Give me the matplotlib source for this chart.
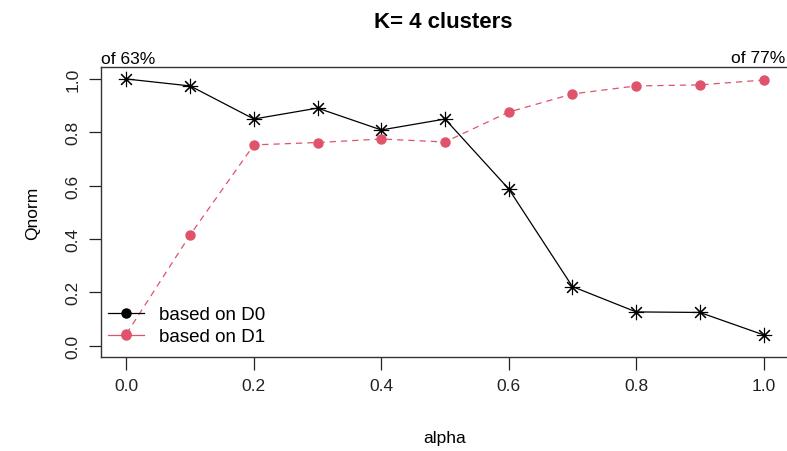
import matplotlib
matplotlib.use("Agg")
import matplotlib.pyplot as plt
from matplotlib.lines import Line2D

plt.rcParams["font.family"] = ["Liberation Sans", "DejaVu Sans"]

# data
alpha = [0.0, 0.1, 0.2, 0.3, 0.4, 0.5, 0.6, 0.7, 0.8, 0.9, 1.0]
q_d0 = [1.0, 0.974, 0.850, 0.891, 0.809, 0.850, 0.588, 0.222, 0.127, 0.125, 0.041]
q_d1 = [0.045, 0.416, 0.753, 0.762, 0.775, 0.764, 0.876, 0.944, 0.974, 0.978, 0.996]
x_ticks = [0.0, 0.2, 0.4, 0.6, 0.8, 1.0]
y_ticks = [0.0, 0.2, 0.4, 0.6, 0.8, 1.0]
red = "#DF536B"

W, H = 787, 452
fig = plt.figure(figsize=(W / 100, H / 100), dpi=100)
ax = fig.add_axes([101 / W, 1 - 358 / H, (789 - 101) / W, (358 - 68) / H])

ax.plot(alpha, q_d0, color="black", lw=0.9, ls="-", marker=(8, 2, 0),
        ms=11, mew=0.8, mec="black")
ax.plot(alpha, q_d1, color=red, lw=0.9, ls=(0, (5, 4)),
        marker="o", ms=6.5, mfc=red, mec=red)

ax.set_xlim(-0.04, 1.04)
ax.set_ylim(-0.042, 1.045)
ax.set_xticks(x_ticks)
ax.set_xticklabels([f"{v:.1f}" for v in x_ticks])
ax.set_yticks(y_ticks)
ax.set_yticklabels([f"{v:.1f}" for v in y_ticks], rotation=90, va="center")
ax.tick_params(direction="out", length=9, width=0.9, labelsize=12.5,
               colors="#222222", pad=6)
for s in ax.spines.values():
    s.set_linewidth(1.0)
    s.set_color("#333333")

ax.set_xlabel("alpha", fontsize=12.5, labelpad=27)
ax.set_ylabel("Qnorm", fontsize=12.5, labelpad=18)
fig.text(443 / W, 1 - 22 / H, "K= 4 clusters", ha="center", va="center",
         fontsize=16, fontweight="bold")
ax.text(0, 1.005, "of 63%", transform=ax.transAxes, ha="left", va="bottom",
        fontsize=12.5)
fig.text(785 / W, 1 - 66 / H, "of 77%", ha="right", va="bottom",
         fontsize=12.5)

handles = [
    Line2D([], [], color="black", lw=0.9, marker="o", ms=6.5),
    Line2D([], [], color=red, lw=0.9, marker="o", ms=6.5),
]
ax.legend(handles, ["based on D0", "based on D1"], loc="lower left",
          frameon=False, fontsize=13.5, handlelength=1.9, handletextpad=0.8,
          labelspacing=0.25, numpoints=1, borderaxespad=0.0,
          bbox_to_anchor=(0.0, 0.015))

fig.savefig("out.png", dpi=100)
